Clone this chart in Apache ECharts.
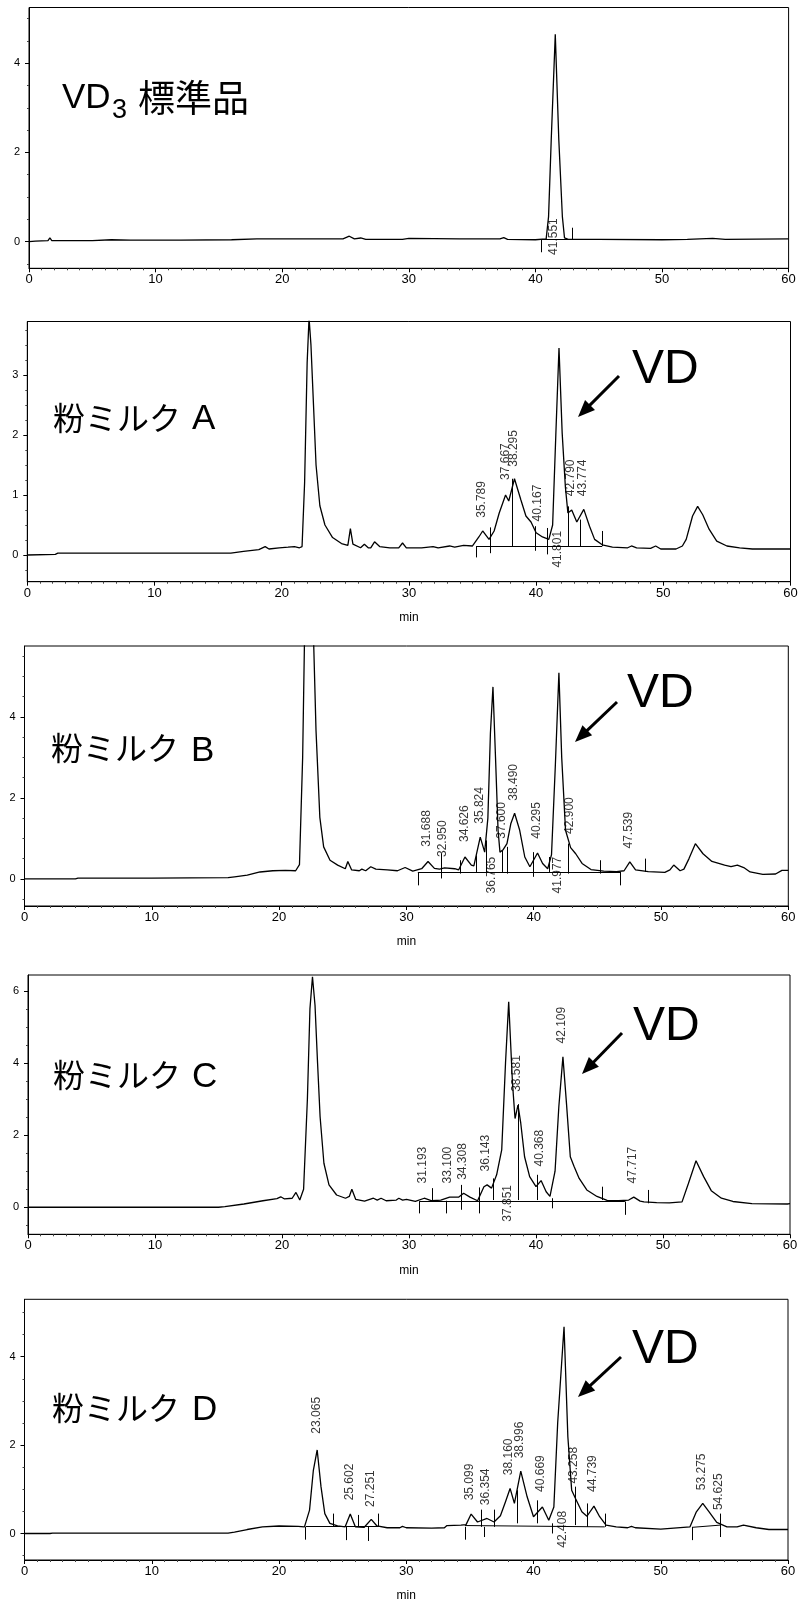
<!DOCTYPE html>
<html><head><meta charset="utf-8">
<script src="https://cdn.jsdelivr.net/npm/echarts@6/dist/echarts.min.js"></script>
<style>html,body{margin:0;padding:0;background:#fff}#c{width:801px;height:1604px}</style>
</head><body><div id="c"></div>
<script>
// ---------- tick labels ----------
const xTickStep = 10;
const yTicksStd = [0, 2, 4];
const yTicksA = [0, 1, 2, 3];
const yTicksB = [0, 2, 4];
const yTicksC = [0, 2, 4, 6];
const yTicksD = [0, 2, 4];

// ---------- chromatogram traces [min, signal] ----------
const traceStd = [[0,0.0],[0.5,0.01],[1.5,0.02],[1.65,0.08],[1.8,0.02],[5,0.02],[6.5,0.04],[8,0.03],[12,0.03],[16,0.04],[18,0.06],[22,0.06],[24.8,0.06],[25.3,0.12],[25.7,0.06],[26.2,0.08],[26.6,0.05],[29.5,0.05],[30,0.07],[34,0.06],[37.2,0.06],[37.5,0.09],[37.8,0.05],[40.0,0.04],[40.85,0.06],[41.04,0.56],[41.25,2.28],[41.57,4.65],[41.85,2.28],[42.13,0.56],[42.3,0.08],[42.6,0.05],[45,0.05],[50,0.04],[52,0.05],[54,0.07],[55,0.05],[60,0.06]];

const traceA = [[0,0.0],[2.2,0.01],[2.4,0.03],[10,0.03],[14,0.03],[16,0.03],[17,0.06],[18.2,0.09],[18.7,0.14],[19.0,0.1],[19.8,0.12],[20.5,0.13],[21.0,0.14],[21.4,0.12],[21.6,0.14],[21.8,1.2],[22.0,3.2],[22.15,3.95],[22.3,3.5],[22.5,2.5],[22.7,1.5],[23.0,0.82],[23.4,0.5],[24.0,0.29],[24.7,0.19],[25.2,0.16],[25.4,0.44],[25.6,0.18],[26.2,0.12],[26.5,0.18],[26.8,0.12],[27.0,0.12],[27.3,0.22],[27.7,0.14],[28.5,0.12],[29.2,0.12],[29.5,0.2],[29.8,0.12],[31,0.12],[31.9,0.14],[32.3,0.12],[33.2,0.15],[33.6,0.13],[34.3,0.16],[35.0,0.15],[35.5,0.3],[35.8,0.4],[36.3,0.26],[36.7,0.4],[37.1,0.7],[37.6,1.0],[37.85,0.9],[38.3,1.27],[38.8,0.92],[39.2,0.65],[39.6,0.55],[40.0,0.37],[40.5,0.3],[41.0,0.26],[41.3,0.5],[41.55,2.0],[41.8,3.45],[42.05,2.03],[42.3,1.14],[42.5,0.7],[42.8,0.75],[43.2,0.55],[43.75,0.76],[44.2,0.48],[44.6,0.26],[45.2,0.17],[46,0.13],[47.2,0.12],[47.5,0.15],[47.9,0.12],[49,0.11],[49.4,0.15],[49.8,0.1],[51.0,0.1],[51.5,0.15],[51.8,0.26],[52.3,0.65],[52.7,0.81],[53.1,0.67],[53.6,0.43],[54.2,0.23],[55,0.15],[56,0.12],[57,0.1],[60,0.1]];

const traceB = [[0,0.0],[4,0.0],[4.2,0.02],[10,0.02],[16,0.03],[16.5,0.05],[17.5,0.09],[18.5,0.17],[19.5,0.2],[20.5,0.21],[21.3,0.2],[21.6,0.35],[21.85,3.0],[22.0,6.0],[22.7,6.0],[22.9,3.66],[23.2,1.52],[23.5,0.79],[24.0,0.46],[24.6,0.34],[25.2,0.25],[25.4,0.43],[25.7,0.22],[26.3,0.2],[26.5,0.24],[26.8,0.2],[27.2,0.3],[27.6,0.24],[28.5,0.22],[29.3,0.2],[29.9,0.28],[30.5,0.19],[31.2,0.25],[31.7,0.43],[32.2,0.26],[32.6,0.24],[33.0,0.27],[33.8,0.25],[34.1,0.22],[34.6,0.54],[35.1,0.34],[35.3,0.32],[35.8,1.03],[36.15,0.66],[36.4,1.5],[36.6,3.6],[36.8,4.74],[37.0,3.0],[37.2,1.2],[37.35,0.66],[37.6,0.72],[37.9,0.87],[38.2,1.36],[38.5,1.62],[38.9,1.2],[39.3,0.54],[39.7,0.3],[40.3,0.64],[40.7,0.38],[41.1,0.25],[41.4,0.6],[41.7,2.8],[41.98,5.09],[42.2,3.0],[42.5,1.2],[42.9,0.77],[43.3,0.62],[43.8,0.38],[44.5,0.23],[45.5,0.19],[46.5,0.18],[47.1,0.2],[47.55,0.42],[48.0,0.22],[49,0.18],[50.3,0.16],[50.7,0.22],[51.0,0.34],[51.5,0.2],[51.8,0.24],[52.2,0.5],[52.7,0.87],[53.3,0.62],[54,0.43],[55,0.34],[55.5,0.3],[56.0,0.34],[56.5,0.28],[57,0.17],[58,0.11],[59,0.12],[59.5,0.21],[60,0.21]];

const traceC = [[0,0.0],[15,0.0],[15.5,0.02],[17,0.09],[18.5,0.18],[19.6,0.24],[19.9,0.29],[20.2,0.23],[20.8,0.25],[21.1,0.41],[21.4,0.2],[21.7,0.5],[22.0,3.0],[22.2,5.5],[22.4,6.39],[22.6,5.6],[22.8,4.0],[23.0,2.51],[23.3,1.22],[23.7,0.62],[24.3,0.34],[25.0,0.25],[25.3,0.3],[25.5,0.5],[25.8,0.22],[26.5,0.17],[27.2,0.25],[27.5,0.2],[27.8,0.25],[28.2,0.18],[29.0,0.2],[29.2,0.25],[29.5,0.2],[29.8,0.22],[30.5,0.16],[31.2,0.25],[31.8,0.18],[32.5,0.2],[33.2,0.28],[33.9,0.28],[34.3,0.39],[34.8,0.28],[35.4,0.18],[35.9,0.57],[36.15,0.62],[36.5,0.53],[36.9,0.9],[37.3,1.59],[37.6,4.0],[37.85,5.7],[38.15,3.43],[38.35,2.46],[38.58,2.83],[38.8,2.33],[39.1,1.4],[39.5,0.85],[40.0,0.57],[40.4,0.74],[40.8,0.43],[41.1,0.3],[41.5,1.0],[41.8,2.8],[42.12,4.17],[42.4,2.88],[42.7,1.4],[43.0,1.13],[43.4,0.8],[44.0,0.48],[44.8,0.3],[45.6,0.19],[46.5,0.18],[47.3,0.2],[47.7,0.28],[48.2,0.17],[48.5,0.15],[49.5,0.13],[50.5,0.12],[51.5,0.15],[52.0,0.66],[52.6,1.29],[53.2,0.85],[53.8,0.46],[54.6,0.25],[55.5,0.16],[57,0.1],[59.8,0.09],[60,0.1]];

const traceD = [[0,0.0],[2,0.0],[2.2,0.01],[16,0.01],[16.5,0.03],[17.5,0.09],[18.7,0.15],[20,0.17],[21.5,0.16],[22.0,0.15],[22.4,0.53],[22.7,1.43],[23.0,1.89],[23.3,1.06],[23.6,0.45],[24.0,0.23],[24.6,0.17],[25.2,0.15],[25.6,0.44],[26.0,0.15],[26.7,0.14],[27.25,0.32],[27.7,0.17],[28.5,0.13],[29.5,0.13],[29.7,0.16],[30.0,0.13],[32,0.12],[33.0,0.13],[33.2,0.18],[34.3,0.19],[34.7,0.2],[35.1,0.44],[35.6,0.26],[36.35,0.34],[36.9,0.26],[37.4,0.4],[37.8,0.72],[38.16,1.02],[38.5,0.68],[39.0,1.41],[39.5,0.83],[40.0,0.38],[40.7,0.6],[41.2,0.3],[41.6,0.6],[41.9,2.5],[42.4,4.68],[42.7,2.19],[43.0,0.98],[43.3,0.79],[43.8,0.49],[44.2,0.39],[44.75,0.62],[45.2,0.38],[45.7,0.19],[46.5,0.15],[47.4,0.13],[47.7,0.16],[48.0,0.13],[50,0.1],[52.3,0.15],[52.8,0.49],[53.3,0.68],[53.8,0.49],[54.4,0.25],[55.2,0.15],[56,0.15],[56.5,0.19],[57.5,0.13],[58.5,0.09],[60,0.09]];

// ---------- peak labels [retention time, label base level] ----------
const labelsStd = [[41.551,-0.3]];
const labelsA = [[35.789,0.62],[37.667,1.25],[38.295,1.47],[40.167,0.56],[41.801,-0.21],[42.790,0.98],[43.774,0.98]];
const labelsB = [[31.688,0.79],[32.950,0.54],[34.626,0.91],[35.824,1.36],[36.765,-0.36],[37.600,0.99],[38.490,1.93],[40.295,0.99],[41.977,-0.36],[42.900,1.11],[47.539,0.75]];
const labelsC = [[31.193,0.66],[33.100,0.66],[34.308,0.76],[36.143,0.99],[37.851,-0.4],[38.581,3.2],[40.368,1.13],[42.109,4.54],[47.717,0.66]];
const labelsD = [[23.065,2.26],[25.602,0.75],[27.251,0.6],[35.099,0.75],[36.354,0.64],[38.160,1.32],[38.996,1.7],[40.669,0.94],[42.408,-0.32],[43.258,1.13],[44.739,0.94],[53.275,0.98],[54.625,0.53]];

// ---------- integration markers [time, low, high] and baselines [t1, v1, t2, v2] ----------
const marksStd = [[40.5,-0.24,0.05],[42.9,0.05,0.31]];
const basesStd = [[40.5,0.05,42.9,0.05]];
const marksA = [[35.3,-0.04,0.15],[36.4,0.03,0.46],[38.1,0.15,1.27],[39.95,0.07,0.48],[40.9,0.01,0.45],[42.55,0.15,0.81],[43.45,0.15,0.59],[45.2,0.15,0.4]];
const basesA = [[35.3,0.15,45.2,0.15]];
const marksB = [[30.9,-0.16,0.17],[32.7,0.01,0.62],[34.25,0.13,0.46],[35.45,0.17,0.58],[36.25,0.17,0.95],[37.5,0.17,0.7],[37.9,0.13,0.79],[40.0,0.05,0.66],[41.2,0.17,0.54],[42.7,0.13,0.87],[45.2,0.13,0.46],[46.8,-0.16,0.17],[48.8,0.17,0.5]];
const basesB = [[30.9,0.16,46.8,0.16]];
const marksC = [[30.8,-0.17,0.16],[31.8,0.2,0.53],[32.9,-0.17,0.18],[34.1,-0.07,0.62],[35.5,-0.17,0.55],[36.6,0.2,0.8],[38.6,0.2,2.86],[40.1,0.2,0.9],[41.3,-0.03,0.25],[45.2,0.2,0.57],[47.0,-0.21,0.16],[48.85,0.11,0.48]];
const basesC = [[30.8,0.18,47.0,0.18]];
const marksD = [[22.1,-0.14,0.15],[24.3,0.15,0.45],[25.3,-0.15,0.15],[26.25,0.15,0.42],[27.05,-0.17,0.15],[27.8,0.15,0.45],[34.6,-0.14,0.15],[35.9,0.15,0.54],[36.15,-0.08,0.15],[36.9,0.15,0.54],[38.7,0.23,0.98],[40.3,0.23,0.75],[41.5,0.0,0.23],[43.3,0.19,1.06],[44.2,0.15,0.68],[45.6,0.15,0.45],[52.5,-0.15,0.15],[54.7,-0.08,0.45]];
const basesD = [[22.1,0.16,27.8,0.16],[34.6,0.18,45.6,0.15],[52.5,0.14,54.7,0.19]];

// ---------- panel titles ----------
const sampleTitles = ['粉ミルク', '粉ミルク', '粉ミルク', '粉ミルク'];
const sampleLetters = ['A', 'B', 'C', 'D'];

// ---------- layout ----------
const NUM = '"Liberation Sans", Arial, sans-serif';
const LAT = '"Liberation Sans", Arial, sans-serif';
const CJK = '"Noto Sans CJK JP", sans-serif';

const panels = [
  {trace: traceStd, labels: labelsStd, marks: marksStd, bases: basesStd, yTicks: yTicksStd, yMinor: 0.5, box: [29, 7.5, 788.6, 268.3], yr: [-0.6, 5.25], minName: false},
  {trace: traceA, labels: labelsA, marks: marksA, bases: basesA, yTicks: yTicksA, yMinor: 0.25, box: [27.3, 321.5, 790.5, 581.7], yr: [-0.445, 3.89], minName: true},
  {trace: traceB, labels: labelsB, marks: marksB, bases: basesB, yTicks: yTicksB, yMinor: 0.5, box: [24.5, 646, 788.3, 906], yr: [-0.67, 5.75], minName: true},
  {trace: traceC, labels: labelsC, marks: marksC, bases: basesC, yTicks: yTicksC, yMinor: 0.5, box: [28, 975, 790, 1234.3], yr: [-0.75, 6.44], minName: true},
  {trace: traceD, labels: labelsD, marks: marksD, bases: basesD, yTicks: yTicksD, yMinor: 0.5, box: [24.5, 1299.3, 788, 1560], yr: [-0.6, 5.3], minName: true}
];

const grid = [], xAxis = [], yAxis = [], series = [];
panels.forEach((p, i) => {
  const [l, t, r, b] = p.box;
  grid.push({left: l, top: t, width: r - l, height: b - t, show: true, borderColor: '#000', borderWidth: 1, backgroundColor: 'transparent', containLabel: false});
  xAxis.push({
    gridIndex: i, type: 'value', min: 0, max: 60, interval: xTickStep,
    axisLine: {show: true, onZero: false, lineStyle: {color: '#000', width: 1}},
    axisTick: {show: true, length: 4, lineStyle: {color: '#000'}},
    minorTick: {show: true, splitNumber: 10, length: 2, lineStyle: {color: '#444'}},
    splitLine: {show: false}, minorSplitLine: {show: false},
    axisLabel: {color: '#000', fontSize: 13, fontFamily: NUM, margin: 5},
    name: p.minName ? 'min' : '', nameLocation: 'middle', nameGap: 30,
    nameTextStyle: {color: '#000', fontSize: 12, fontFamily: NUM}
  });
  const minors = [];
  for (let v = Math.ceil(p.yr[0] / p.yMinor) * p.yMinor; v <= p.yr[1] + 1e-9; v += p.yMinor) {
    const rv = Math.round(v * 1000) / 1000;
    if (!p.yTicks.includes(rv)) minors.push(rv);
  }
  yAxis.push({
    gridIndex: i, type: 'value', min: p.yr[0], max: p.yr[1], position: 'left', offset: 0,
    axisLine: {show: true, onZero: false, lineStyle: {color: '#000', width: 1}},
    axisTick: {show: true, length: 4, customValues: p.yTicks, lineStyle: {color: '#000'}},
    axisLabel: {customValues: p.yTicks, color: '#000', fontSize: 11, fontFamily: NUM, margin: 9},
    splitLine: {show: false}
  });
  yAxis.push({
    gridIndex: i, type: 'value', min: p.yr[0], max: p.yr[1], position: 'left', offset: 0,
    axisLine: {show: false}, axisLabel: {show: false}, splitLine: {show: false},
    axisTick: {show: true, length: 2, customValues: minors, lineStyle: {color: '#444'}}
  });
  const yi = i * 2;
  series.push({
    type: 'line', xAxisIndex: i, yAxisIndex: yi, data: p.trace, symbol: 'none', showSymbol: false,
    lineStyle: {color: '#000', width: 1.3}, animation: false, silent: true, z: 3
  });
  const segs = p.marks.map(m => ({coords: [[m[0], m[1]], [m[0], m[2]]]}))
    .concat(p.bases.map(s => ({coords: [[s[0], s[1]], [s[2], s[3]]]})));
  series.push({
    type: 'lines', coordinateSystem: 'cartesian2d', xAxisIndex: i, yAxisIndex: yi, data: segs,
    lineStyle: {color: '#000', width: 1, opacity: 1}, silent: true, animation: false, z: 2
  });
  series.push({
    type: 'scatter', xAxisIndex: i, yAxisIndex: yi, data: p.labels, symbolSize: 1,
    itemStyle: {color: 'rgba(0,0,0,0)'}, silent: true, animation: false, z: 4,
    label: {show: true, position: 'inside', rotate: 90, align: 'left', verticalAlign: 'middle', offset: [0, -1],
      formatter: q => q.value[0].toFixed(3), color: '#000', fontSize: 12, fontFamily: NUM}
  });
});

// ---------- annotations ----------
function txt(str, x, yc, size, family) {
  return {type: 'text', x: x, y: yc, silent: true, z: 10,
    style: {text: str, fill: '#000', font: size + 'px ' + family, align: 'left', verticalAlign: 'middle', textAlign: 'left', textVerticalAlign: 'middle'}};
}
function arrow(x1, y1, x2, y2) {
  const dx = x2 - x1, dy = y2 - y1, L = Math.hypot(dx, dy), ux = dx / L, uy = dy / L;
  const hl = 17, hw = 7, bx = x2 - ux * hl, by = y2 - uy * hl;
  return [
    {type: 'line', silent: true, z: 10, shape: {x1: x1, y1: y1, x2: bx + ux * 3, y2: by + uy * 3}, style: {stroke: '#000', lineWidth: 3}},
    {type: 'polygon', silent: true, z: 10, shape: {points: [[x2, y2], [bx - uy * hw, by + ux * hw], [bx + uy * hw, by - ux * hw]]}, style: {fill: '#000'}}
  ];
}
const graphic = [
  txt('VD', 62, 98, 35, LAT),
  txt('3', 112, 111, 27, LAT),
  txt('標準品', 138, 98, 37, CJK)
];
const titleLayout = [
  {x: 53, y: 418, lx: 192, ly: 419, vx: 632, vy: 369.5, a: [619, 376, 578, 417]},
  {x: 51, y: 748, lx: 191, ly: 751, vx: 627, vy: 694, a: [617, 702, 575, 742]},
  {x: 53, y: 1075, lx: 192, ly: 1077, vx: 633, vy: 1027, a: [622, 1033, 582, 1074]},
  {x: 52, y: 1408, lx: 192, ly: 1410, vx: 632, vy: 1350, a: [621, 1357, 578, 1397]}
];
titleLayout.forEach((L, k) => {
  graphic.push(txt(sampleTitles[k], L.x, L.y, 32, CJK));
  graphic.push(txt(sampleLetters[k], L.lx, L.ly, 35, LAT));
  graphic.push(txt('VD', L.vx, L.vy, 48, LAT));
  arrow(...L.a).forEach(e => graphic.push(e));
});

const chart = echarts.init(document.getElementById('c'), null, {renderer: 'canvas'});
chart.setOption({backgroundColor: '#fff', animation: false, grid, xAxis, yAxis, series, graphic});
</script></body></html>
